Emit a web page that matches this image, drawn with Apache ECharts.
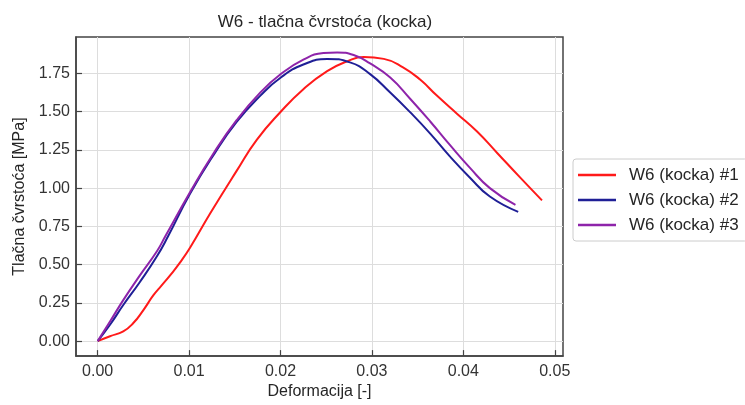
<!DOCTYPE html>
<html>
<head>
<meta charset="utf-8">
<script src="https://cdn.jsdelivr.net/npm/echarts@6/dist/echarts.min.js"></script>
<style>html,body{margin:0;padding:0;background:#fff}#c{width:745px;height:405px}</style>
</head>
<body>
<div id="c"></div>
<script>
const titleText = 'W6 - tlačna čvrstoća (kocka)';
const xName = 'Deformacija [-]';
const yName = 'Tlačna čvrstoća [MPa]';
const seriesNames = ['W6 (kocka) #1', 'W6 (kocka) #2', 'W6 (kocka) #3'];
const xTicks = [0, 0.01, 0.02, 0.03, 0.04, 0.05];
const yTicks = [0, 0.25, 0.5, 0.75, 1.0, 1.25, 1.5, 1.75];

const x1 = [0, 0.00135, 0.0028, 0.0039, 0.0050, 0.0061, 0.0070, 0.0079, 0.0090, 0.0101, 0.0123, 0.0152, 0.0174, 0.0200, 0.0225, 0.0251, 0.0273, 0.0291, 0.0313, 0.0334, 0.0353, 0.0371, 0.0393, 0.0415, 0.0437, 0.0462, 0.0486];
const y1 = [0, 0.032, 0.064, 0.118, 0.203, 0.300, 0.364, 0.428, 0.513, 0.610, 0.834, 1.113, 1.316, 1.498, 1.647, 1.765, 1.829, 1.857, 1.845, 1.790, 1.708, 1.605, 1.487, 1.370, 1.230, 1.070, 0.920];

const x2 = [0, 0.00135, 0.0028, 0.0046, 0.0065, 0.0077, 0.0101, 0.0127, 0.0152, 0.0178, 0.0200, 0.0225, 0.0251, 0.0276, 0.0298, 0.0320, 0.0342, 0.0364, 0.0385, 0.0407, 0.0429, 0.0460];
const y2 = [0, 0.107, 0.236, 0.385, 0.556, 0.685, 0.963, 1.219, 1.433, 1.605, 1.722, 1.808, 1.845, 1.822, 1.745, 1.625, 1.495, 1.355, 1.209, 1.070, 0.945, 0.845];

const x3 = [0, 0.00135, 0.0028, 0.0046, 0.0065, 0.0074, 0.0101, 0.0127, 0.0152, 0.0178, 0.0200, 0.0225, 0.0247, 0.0262, 0.0280, 0.0298, 0.0320, 0.0342, 0.0364, 0.0385, 0.0407, 0.0429, 0.0457];
const y3 = [0, 0.128, 0.268, 0.428, 0.589, 0.685, 0.973, 1.230, 1.444, 1.626, 1.744, 1.840, 1.883, 1.887, 1.870, 1.815, 1.723, 1.583, 1.434, 1.284, 1.134, 1.000, 0.890];

const colors = ['#ff1a1a', '#1f1f96', '#8e24aa'];

function pairs(xs, ys) { return xs.map((x, i) => [x, ys[i]]); }
const allData = [pairs(x1, y1), pairs(x2, y2), pairs(x3, y3)];

const font = 'Liberation Sans, Arial, sans-serif';
const chart = echarts.init(document.getElementById('c'), null, { renderer: 'canvas' });
chart.setOption({
  animation: false,
  title: {
    text: titleText, left: 320, top: 9, textAlign: 'center',
    textStyle: { fontFamily: font, fontSize: 17, fontWeight: 'normal', color: '#262626' }
  },
  grid: {
    left: 76, right: 182, top: 37, bottom: 43, show: true,
    borderColor: '#444', borderWidth: 1.5, backgroundColor: 'transparent'
  },
  legend: {
    orient: 'vertical', left: 573, top: 159, padding: [7, 9, 7, 5],
    icon: 'rect', itemWidth: 38, itemHeight: 2.5, itemGap: 7,
    borderColor: '#cccccc', borderWidth: 1, borderRadius: 3,
    textStyle: { fontFamily: font, fontSize: 17, color: '#262626', lineHeight: 18, padding: [0, 0, 0, 8] },
    data: seriesNames
  },
  xAxis: {
    type: 'value', min: -0.00237, max: 0.0509,
    name: xName, nameLocation: 'middle', nameGap: 26,
    nameTextStyle: { fontFamily: font, fontSize: 16, color: '#262626' },
    axisLine: { onZero: false, lineStyle: { color: '#444', width: 1.5 } },
    axisTick: { inside: true, length: 6, customValues: xTicks, lineStyle: { color: '#444', width: 1.2 } },
    axisLabel: { customValues: xTicks, margin: 7, fontFamily: font, fontSize: 16, color: '#333',
      formatter: v => v.toFixed(2) },
    splitLine: { show: true, lineStyle: { color: '#dddddd', width: 1 } }
  },
  yAxis: {
    type: 'value', min: -0.098, max: 1.988,
    name: yName, nameLocation: 'middle', nameGap: 46, nameRotate: 90,
    nameTextStyle: { fontFamily: font, fontSize: 16, color: '#262626' },
    axisLine: { show: true, onZero: false, lineStyle: { color: '#444', width: 1.5 } },
    axisTick: { show: true, inside: true, length: 6, customValues: yTicks, lineStyle: { color: '#444', width: 1.2 } },
    axisLabel: { customValues: yTicks, margin: 6, fontFamily: font, fontSize: 16, color: '#333',
      formatter: v => v.toFixed(2) },
    splitLine: { show: true, lineStyle: { color: '#dddddd', width: 1 } }
  },
  series: seriesNames.map((n, i) => ({
    name: n, type: 'line', data: allData[i], smooth: 0.5, symbol: 'none',
    lineStyle: { color: colors[i], width: 2 }, itemStyle: { color: colors[i] }
  }))
});
</script>
</body>
</html>
